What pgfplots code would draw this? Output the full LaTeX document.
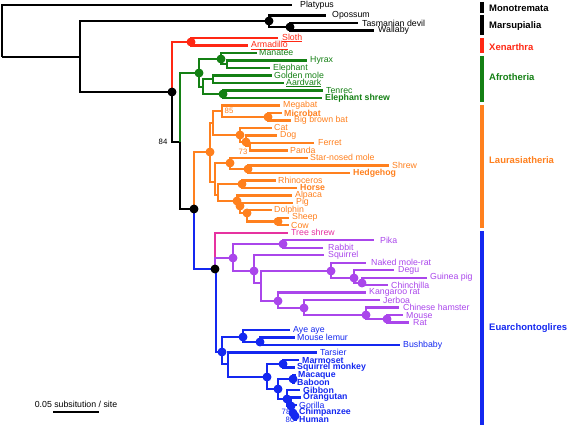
\documentclass[border=0pt]{standalone}
\usepackage{pgfplots}
\pgfplotsset{compat=1.18}
\usepackage{fontspec}
\setmainfont{Liberation Sans}
\definecolor{cred}{RGB}{255,40,20}
\definecolor{cgreen}{RGB}{20,128,20}
\definecolor{corange}{RGB}{255,128,30}
\definecolor{cpurple}{RGB}{170,70,235}
\definecolor{cblue}{RGB}{20,40,240}
\definecolor{cpink}{RGB}{230,50,160}
\newcommand{\br}[5]{\addplot[#1] coordinates {(#2,#3) (#2,#4) (#5,#4)};}
\newcommand{\lab}[4]{\node[anchor=west, text=#1, inner sep=0pt, font=\fontsize{8.8}{9}\selectfont] at (axis cs:#2,#3) {#4};}
\newcommand{\grp}[4]{\node[anchor=west, text=#1, inner sep=0pt, font=\fontsize{9.5}{10}\selectfont\bfseries] at (axis cs:#2,#3) {#4};}
\newcommand{\boot}[4]{\node[text=#1, inner sep=0pt, font=\fontsize{7.8}{8}\selectfont] at (axis cs:#2,#3) {#4};}
\begin{document}
\begin{tikzpicture}
\begin{axis}[scale only axis, width=568bp, height=427bp,
  xmin=0, xmax=568, ymin=0, ymax=427, y dir=reverse,
  axis lines=none, clip=false,
  every axis plot/.append style={line width=2.4bp, line join=miter, line cap=butt}]
% ---------- black backbone ----------
\addplot[black] coordinates {(2,57) (2,5) (292,5)};
\addplot[black] coordinates {(2,57) (80,57)};
\br{black}{80}{57}{21}{269}
\br{black}{269}{21}{15.5}{326}
\br{black}{269}{21}{27}{290}
\br{black}{290}{27}{23}{358}
\br{black}{290}{27}{30.5}{374}
\br{black}{80}{57}{92}{172}
\br{black}{172}{92}{142}{180}
\br{black}{180}{142}{209}{194}
% ---------- Xenarthra ----------
\br{cred}{172}{92}{42}{191}
\br{cred}{191}{42}{38}{278}
\br{cred}{191}{42}{45.5}{248}
% ---------- Afrotheria ----------
\br{cgreen}{180}{142}{73}{199}
\br{cgreen}{199}{73}{59}{221}
\br{cgreen}{221}{59}{53}{257}
\br{cgreen}{221}{59}{64}{227}
\br{cgreen}{227}{64}{60.4}{307}
\br{cgreen}{227}{64}{67.9}{270}
\br{cgreen}{199}{73}{87}{203}
\br{cgreen}{203}{87}{79}{213}
\br{cgreen}{213}{79}{75.4}{272}
\br{cgreen}{213}{79}{82.9}{284}
\br{cgreen}{203}{87}{94}{223}
\br{cgreen}{223}{94}{90.4}{323}
\br{cgreen}{223}{94}{97.9}{322}
% ---------- Laurasiatheria ----------
\br{corange}{194}{209}{152}{210}
\br{corange}{210}{152}{123}{213}
\br{corange}{213}{123}{111}{222}
\br{corange}{222}{111}{105.4}{280}
\br{corange}{222}{111}{117}{268}
\br{corange}{268}{117}{112.9}{282}
\br{corange}{268}{117}{120.4}{291}
\br{corange}{213}{123}{135}{240}
\br{corange}{240}{135}{127.8}{272}
\br{corange}{240}{135}{142}{246}
\br{corange}{246}{142}{135.3}{277}
\br{corange}{246}{142}{146}{250}
\br{corange}{250}{146}{142.8}{314}
\br{corange}{250}{146}{150.3}{288}
\br{corange}{210}{152}{182}{215}
\br{corange}{215}{182}{163}{230}
\br{corange}{230}{163}{157.8}{308}
\br{corange}{230}{163}{169}{248}
\br{corange}{248}{169}{165.3}{389}
\br{corange}{248}{169}{172.8}{350}
\br{corange}{215}{182}{195}{218}
\br{corange}{218}{195}{184}{242}
\br{corange}{242}{184}{180.3}{276}
\br{corange}{242}{184}{187.8}{297}
\br{corange}{218}{195}{201}{237}
\br{corange}{237}{201}{195.3}{292}
\br{corange}{237}{201}{206}{240}
\br{corange}{240}{206}{202.7}{293}
\br{corange}{240}{206}{213}{247}
\br{corange}{247}{213}{210.2}{272}
\br{corange}{247}{213}{221.5}{278}
\br{corange}{278}{221.5}{217.7}{289}
\br{corange}{278}{221.5}{225.2}{289}
% ---------- Euarchontoglires ----------
\br{cblue}{194}{209}{269}{215}
\br{cpink}{215}{269}{232.7}{288}
\br{cpurple}{215}{269}{258}{233}
\br{cpurple}{233}{258}{244}{283}
\br{cpurple}{283}{244}{240.2}{374}
\br{cpurple}{283}{244}{247.7}{323}
\br{cpurple}{233}{258}{271}{254}
\br{cpurple}{254}{271}{255.2}{324}
\br{cpurple}{254}{271}{283}{261}
\br{cpurple}{261}{283}{271}{331}
\br{cpurple}{331}{271}{262.7}{366}
\br{cpurple}{331}{271}{278}{354}
\br{cpurple}{354}{278}{270.2}{394}
\br{cpurple}{354}{278}{283}{362}
\br{cpurple}{362}{283}{277.7}{427}
\br{cpurple}{362}{283}{285.2}{388}
\br{cpurple}{261}{283}{301}{278}
\br{cpurple}{278}{301}{292.6}{366}
\br{cpurple}{278}{301}{308}{304}
\br{cpurple}{304}{308}{300.1}{380}
\br{cpurple}{304}{308}{315}{366}
\br{cpurple}{366}{315}{307.6}{399}
\br{cpurple}{366}{315}{319}{387}
\br{cpurple}{387}{319}{315.1}{403}
\br{cpurple}{387}{319}{322.6}{409}
% primates
\br{cblue}{216}{269}{352}{222}
\br{cblue}{222}{352}{337}{243}
\br{cblue}{243}{337}{330.1}{290}
\br{cblue}{243}{337}{342}{260}
\br{cblue}{260}{342}{337.6}{295}
\br{cblue}{260}{342}{345.1}{400}
\br{cblue}{222}{352}{364}{228}
\br{cblue}{228}{364}{352.6}{317}
\br{cblue}{228}{364}{377}{267}
\br{cblue}{267}{377}{364}{283}
\br{cblue}{283}{364}{360.1}{299}
\br{cblue}{283}{364}{367.6}{295}
\br{cblue}{267}{377}{389}{278}
\br{cblue}{278}{389}{379}{293}
\br{cblue}{293}{379}{375.1}{296}
\br{cblue}{293}{379}{382.6}{295}
\br{cblue}{278}{389}{399}{287}
\br{cblue}{287}{399}{390}{300}
\br{cblue}{287}{399}{406}{291}
\br{cblue}{291}{406}{397.5}{301}
\br{cblue}{291}{406}{413}{293}
\br{cblue}{293}{413}{405}{297}
\br{cblue}{293}{413}{416}{295}
\br{cblue}{295}{416}{412.5}{297}
\br{cblue}{295}{416}{420}{297}
% ---------- node dots ----------
\addplot[only marks, mark=*, mark size=3.2, black] coordinates {(269,21) (290,27) (172,92) (194,209) (215,269)};
\addplot[only marks, mark=*, mark size=3.2, cred] coordinates {(191,42)};
\addplot[only marks, mark=*, mark size=3.2, cgreen] coordinates {(199,73) (221,59) (223,94)};
\addplot[only marks, mark=*, mark size=3.2, corange] coordinates {(210,152) (268,117) (240,135) (246,142) (230,163) (248,169) (242,184) (237,201) (240,206) (247,213) (278,221.5)};
\addplot[only marks, mark=*, mark size=3.2, cpurple] coordinates {(233,258) (283,244) (254,271) (331,271) (354,278) (362,283) (278,301) (304,308) (366,315) (387,319)};
\addplot[only marks, mark=*, mark size=3.2, cblue] coordinates {(222,352) (243,337) (260,342) (267,377) (283,364) (278,389) (293,379) (287,399) (291,406) (293,413) (295,416)};
% ---------- clade bars ----------
\addplot[black, line width=4.5bp] coordinates {(482,2) (482,13)};
\addplot[black, line width=4.5bp] coordinates {(482,15) (482,35)};
\addplot[cred, line width=4.5bp] coordinates {(482,38) (482,53)};
\addplot[cgreen, line width=4.5bp] coordinates {(482,56) (482,102)};
\addplot[corange, line width=4.5bp] coordinates {(482,105) (482,228)};
\addplot[cblue, line width=4.5bp] coordinates {(482,231) (482,425)};
% scale bar
\addplot[black] coordinates {(53,412) (99,412)};
% ---------- labels ----------
\lab{black}{300}{5}{Platypus}
\lab{black}{332}{15.5}{Opossum}
\lab{black}{362}{23}{Tasmanian devil}
\lab{black}{378}{30.5}{Wallaby}
\lab{cred}{282}{38}{\underline{Sloth}}
\lab{cred}{251}{45.5}{\underline{Armadillo}}
\lab{cgreen}{259}{53}{Manatee}
\lab{cgreen}{310}{60.4}{Hyrax}
\lab{cgreen}{273}{67.9}{Elephant}
\lab{cgreen}{274}{75.4}{Golden mole}
\lab{cgreen}{286}{82.9}{\underline{Aardvark}}
\lab{cgreen}{326}{90.4}{Tenrec}
\lab{cgreen}{325}{97.9}{\textbf{Elephant shrew}}
\lab{corange}{283}{105.4}{Megabat}
\lab{corange}{284}{112.9}{\textbf{Microbat}}
\lab{corange}{294}{120.4}{Big brown bat}
\lab{corange}{274}{127.8}{Cat}
\lab{corange}{280}{135.3}{Dog}
\lab{corange}{318}{142.8}{Ferret}
\lab{corange}{290}{150.3}{Panda}
\lab{corange}{310}{157.8}{Star-nosed mole}
\lab{corange}{392}{165.3}{Shrew}
\lab{corange}{353}{172.8}{\textbf{Hedgehog}}
\lab{corange}{278}{180.3}{Rhinoceros}
\lab{corange}{300}{187.8}{\textbf{Horse}}
\lab{corange}{295}{195.3}{Alpaca}
\lab{corange}{296}{202.7}{Pig}
\lab{corange}{274}{210.2}{Dolphin}
\lab{corange}{292}{217.7}{Sheep}
\lab{corange}{291}{225.2}{Cow}
\lab{cpink}{291}{232.7}{Tree shrew}
\lab{cpurple}{380}{240.2}{Pika}
\lab{cpurple}{328}{247.7}{Rabbit}
\lab{cpurple}{328}{255.2}{Squirrel}
\lab{cpurple}{371}{262.7}{Naked mole-rat}
\lab{cpurple}{398}{270.2}{Degu}
\lab{cpurple}{430}{277.7}{Guinea pig}
\lab{cpurple}{391}{285.2}{Chinchilla}
\lab{cpurple}{369}{292.6}{Kangaroo rat}
\lab{cpurple}{383}{300.1}{Jerboa}
\lab{cpurple}{403}{307.6}{Chinese hamster}
\lab{cpurple}{406}{315.1}{Mouse}
\lab{cpurple}{413}{322.6}{Rat}
\lab{cblue}{293}{330.1}{Aye aye}
\lab{cblue}{297}{337.6}{Mouse lemur}
\lab{cblue}{403}{345.1}{Bushbaby}
\lab{cblue}{320}{352.6}{Tarsier}
\lab{cblue}{302}{360.1}{\textbf{Marmoset}}
\lab{cblue}{297}{367.6}{\textbf{Squirrel monkey}}
\lab{cblue}{298}{375.1}{\textbf{Macaque}}
\lab{cblue}{297}{382.6}{\textbf{Baboon}}
\lab{cblue}{303}{390}{\textbf{Gibbon}}
\lab{cblue}{303}{397.5}{\textbf{Orangutan}}
\lab{cblue}{299}{405}{Gorilla}
\lab{cblue}{299}{412.5}{\textbf{Chimpanzee}}
\lab{cblue}{299}{420}{\textbf{Human}}
% bootstrap values
\boot{corange}{229}{111}{85}
\boot{corange}{243}{152}{73}
\boot{black}{163}{142}{84}
\boot{cblue}{286}{412}{78}
\boot{cblue}{290}{420}{80}
% clade names
\grp{black}{489}{8}{Monotremata}
\grp{black}{489}{26}{Marsupialia}
\grp{cred}{489}{47}{Xenarthra}
\grp{cgreen}{489}{77}{Afrotheria}
\grp{corange}{489}{160}{Laurasiatheria}
\grp{cblue}{489}{328}{Euarchontoglires}
\node[anchor=south, inner sep=0pt, font=\fontsize{8.8}{9}\selectfont] at (axis cs:76,408) {0.05 subsitution / site};
\end{axis}
\pgfresetboundingbox
\useasboundingbox (current axis.south west) rectangle (current axis.north east);
\end{tikzpicture}
\end{document}
